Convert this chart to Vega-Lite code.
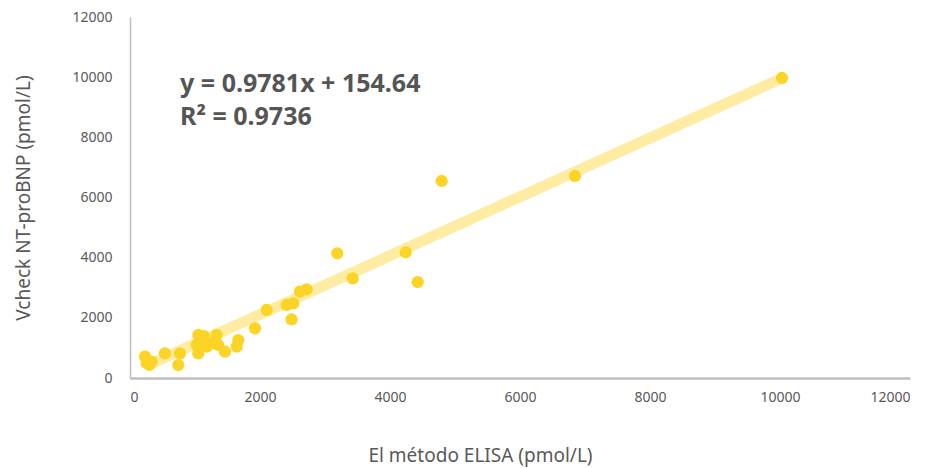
{
  "$schema": "https://vega.github.io/schema/vega-lite/v6.json",
  "width": 780,
  "height": 361,
  "autosize": "none",
  "padding": {"left": 130, "top": 17, "right": 29, "bottom": 90},
  "background": "white",
  "config": {
    "view": {"stroke": null},
    "font": "Noto Sans",
    "axis": {
      "grid": false,
      "ticks": false,
      "domainColor": "#BFBFBF",
      "labelColor": "#595959",
      "titleColor": "#595959",
      "labelFont": "Noto Sans",
      "titleFont": "Noto Sans",
      "labelFontSize": 14,
      "titleFontSize": 19,
      "titleFontWeight": "normal"
    }
  },
  "datasets": {
    "points": [
      {"elisa": 231, "vcheck": 708},
      {"elisa": 257, "vcheck": 489},
      {"elisa": 334, "vcheck": 542},
      {"elisa": 300, "vcheck": 440},
      {"elisa": 538, "vcheck": 821},
      {"elisa": 769, "vcheck": 821},
      {"elisa": 743, "vcheck": 432},
      {"elisa": 1051, "vcheck": 1430},
      {"elisa": 1026, "vcheck": 1097},
      {"elisa": 1051, "vcheck": 821},
      {"elisa": 1180, "vcheck": 1041},
      {"elisa": 1138, "vcheck": 1396},
      {"elisa": 1334, "vcheck": 1430},
      {"elisa": 1358, "vcheck": 1097},
      {"elisa": 1250, "vcheck": 1150},
      {"elisa": 1462, "vcheck": 874},
      {"elisa": 1666, "vcheck": 1263},
      {"elisa": 1642, "vcheck": 1041},
      {"elisa": 1923, "vcheck": 1652},
      {"elisa": 2103, "vcheck": 2261},
      {"elisa": 2411, "vcheck": 2427},
      {"elisa": 2512, "vcheck": 2483},
      {"elisa": 2485, "vcheck": 1945},
      {"elisa": 2615, "vcheck": 2869},
      {"elisa": 2718, "vcheck": 2949},
      {"elisa": 3189, "vcheck": 4146},
      {"elisa": 3426, "vcheck": 3314},
      {"elisa": 4242, "vcheck": 4179},
      {"elisa": 4426, "vcheck": 3191},
      {"elisa": 4795, "vcheck": 6549},
      {"elisa": 6846, "vcheck": 6715},
      {"elisa": 10031, "vcheck": 9973}
    ],
    "trend": [
      {"elisa": 231, "vcheck": 380.6},
      {"elisa": 10031, "vcheck": 9966.0}
    ],
    "labels": [
      {"line": "y = 0.9781x + 154.64\nR² = 0.9736", "lx": 770, "ly": 9500}
    ]
  },
  "layer": [
    {
      "data": {"name": "trend"},
      "mark": {"type": "line", "color": "#FEECA3", "strokeWidth": 11, "strokeCap": "butt"},
      "encoding": {
        "x": {"field": "elisa", "type": "quantitative", "scale": {"domain": [0, 12000]},
              "axis": {"values": [0, 2000, 4000, 6000, 8000, 10000, 12000], "format": "d", "title": "El método ELISA  (pmol/L)", "labelPadding": 12, "titlePadding": 42, "domainWidth": 2.5, "titleX": 350}},
        "y": {"field": "vcheck", "type": "quantitative", "scale": {"domain": [0, 12000]},
              "axis": {"values": [0, 2000, 4000, 6000, 8000, 10000, 12000], "format": "d", "title": "Vcheck NT-proBNP (pmol/L)", "labelPadding": 18, "titlePadding": 38, "domainWidth": 1.5}}
      }
    },
    {
      "data": {"name": "points"},
      "mark": {"type": "circle", "color": "#FCD425", "opacity": 1, "size": 150},
      "encoding": {
        "x": {"field": "elisa", "type": "quantitative"},
        "y": {"field": "vcheck", "type": "quantitative"}
      }
    },
    {
      "data": {"name": "labels"},
      "mark": {"type": "text", "align": "left", "baseline": "alphabetic", "lineBreak": "\n", "lineHeight": 33, "font": "Noto Sans", "fontWeight": "bold", "fontSize": 25, "color": "#555555"},
      "encoding": {
        "x": {"field": "lx", "type": "quantitative"},
        "y": {"field": "ly", "type": "quantitative"},
        "text": {"field": "line"}
      }
    }
  ]
}
